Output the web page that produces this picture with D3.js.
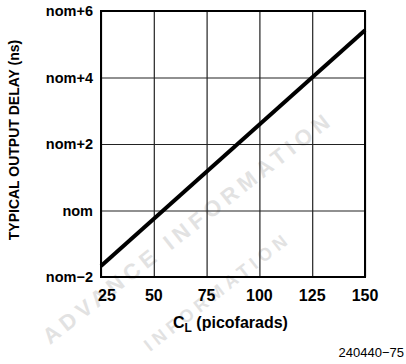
<!DOCTYPE html>
<html>
<head>
<meta charset="utf-8">
<script src="https://cdn.jsdelivr.net/npm/d3@7"></script>
<style>
  body { margin: 0; background: #fff; }
  svg { display: block; }
  text { font-family: "Liberation Sans", Arial, sans-serif; }
</style>
</head>
<body>
<svg id="chart"></svg>
<script>
// data
let capValues = [25, 150];
let delayValues = [-1.67, 5.42];
let xTicks = [25, 50, 75, 100, 125, 150];
let yTicks = [-2, 0, 2, 4, 6];
let yTickLabels = ["nom\u22122", "nom", "nom+2", "nom+4", "nom+6"];

let width = 406;
let height = 364;

let paddingLeft = 101;
let paddingRight = 41;
let paddingTop = 11;
let paddingBottom = 87;

let svg = d3.select("#chart").attr("width", width).attr("height", height);

let xScale = d3
  .scaleLinear()
  .range([paddingLeft, width - paddingRight])
  .domain([25, 150]);

let yScale = d3
  .scaleLinear()
  .range([height - paddingBottom, paddingTop])
  .domain([-2, 6]);

// faint watermark from the scan
let wm = svg.append("g").attr("fill", "#e2e2e2").style("font-weight", "bold");
wm.append("text")
  .attr("transform", "translate(50,345) rotate(-38)")
  .style("font-size", "22px")
  .style("letter-spacing", "5px")
  .text("ADVANCE INFORMATION");
wm.append("text")
  .attr("transform", "translate(150,352) rotate(-38)")
  .style("font-size", "18px")
  .style("letter-spacing", "5px")
  .text("INFORMATION");

// grid
svg
  .append("g")
  .attr("transform", "translate(0," + (height - paddingBottom) + ")")
  .call(d3.axisBottom(xScale).tickValues(xTicks).tickSize(-(height - paddingTop - paddingBottom)).tickFormat(""))
  .call((g) => g.select(".domain").remove())
  .call((g) => g.selectAll("line").attr("stroke", "#222").attr("stroke-width", 1.2));

svg
  .append("g")
  .attr("transform", "translate(" + paddingLeft + ",0)")
  .call(d3.axisLeft(yScale).tickValues(yTicks).tickSize(-(width - paddingLeft - paddingRight)).tickFormat(""))
  .call((g) => g.select(".domain").remove())
  .call((g) => g.selectAll("line").attr("stroke", "#222").attr("stroke-width", 1.2));

// frame
svg
  .append("rect")
  .attr("x", xScale(25))
  .attr("y", yScale(6))
  .attr("width", xScale(150) - xScale(25))
  .attr("height", yScale(-2) - yScale(6))
  .attr("fill", "none")
  .attr("stroke", "#000")
  .attr("stroke-width", 2);

// data line
let lineData = capValues.map((c, i) => ({ c: c, d: delayValues[i] }));
svg
  .append("path")
  .datum(lineData)
  .attr("fill", "none")
  .attr("stroke", "#000")
  .attr("stroke-width", 4)
  .attr(
    "d",
    d3
      .line()
      .x((d) => xScale(d.c))
      .y((d) => yScale(d.d))
  );

// tick labels
svg
  .append("g")
  .selectAll("text")
  .data(yTicks)
  .join("text")
  .attr("x", paddingLeft - 8)
  .attr("y", (d) => yScale(d) + 5)
  .attr("text-anchor", "end")
  .style("font-size", "14.5px")
  .style("font-weight", "bold")
  .text((d, i) => yTickLabels[i]);

svg
  .append("g")
  .selectAll("text")
  .data(xTicks)
  .join("text")
  .attr("x", (d, i) => xScale(d) + (i == 0 ? 6 : 0))
  .attr("y", 301)
  .attr("text-anchor", "middle")
  .style("font-size", "16px")
  .style("font-weight", "bold")
  .text((d) => d);

// axis titles
let xTitle = svg
  .append("text")
  .attr("x", 173)
  .attr("y", 328)
  .style("font-size", "16px")
  .style("font-weight", "bold");
xTitle.append("tspan").text("C");
xTitle.append("tspan").attr("dy", 4).style("font-size", "12px").text("L");
xTitle.append("tspan").attr("dy", -4).text(" (picofarads)");

svg
  .append("text")
  .attr("transform", "translate(19,140) rotate(-90)")
  .attr("text-anchor", "middle")
  .style("font-size", "14px")
  .style("font-weight", "bold")
  .text("TYPICAL OUTPUT DELAY (ns)");

svg
  .append("text")
  .attr("x", 404)
  .attr("y", 357)
  .attr("text-anchor", "end")
  .style("font-size", "13px")
  .text("240440\u221275");
</script>
</body>
</html>
